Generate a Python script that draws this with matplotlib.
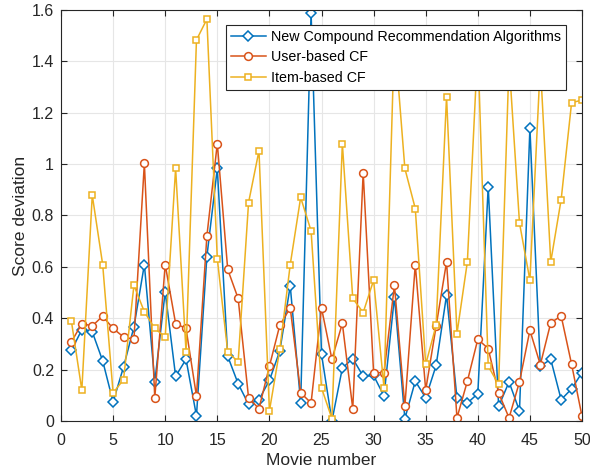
import numpy as np
import matplotlib
matplotlib.use('Agg')
import matplotlib.pyplot as plt

plt.rcParams['font.family'] = ['Liberation Sans', 'DejaVu Sans']

movies = np.arange(1, 51)

new_compound = [0.275, 0.355, 0.347, 0.234, 0.074, 0.21, 0.366, 0.609, 0.152, 0.503,
                0.174, 0.24, 0.02, 0.64, 0.983, 0.252, 0.145, 0.065, 0.083, 0.158,
                0.273, 0.526, 0.071, 1.59, 0.26, 0.0, 0.206, 0.243, 0.174, 0.177,
                0.097, 0.483, 0.009, 0.155, 0.09, 0.216, 0.49, 0.09, 0.07, 0.106,
                0.912, 0.057, 0.152, 0.039, 1.139, 0.213, 0.24, 0.083, 0.125, 0.188]

user_cf = [0.308, 0.379, 0.37, 0.408, 0.36, 0.327, 0.318, 1.003, 0.09, 0.609,
           0.379, 0.36, 0.097, 0.72, 1.08, 0.59, 0.477, 0.09, 0.048, 0.213,
           0.373, 0.44, 0.11, 0.07, 0.44, 0.24, 0.38, 0.048, 0.967, 0.188,
           0.188, 0.528, 0.057, 0.609, 0.12, 0.369, 0.619, 0.012, 0.155, 0.318,
           0.282, 0.109, 0.012, 0.152, 0.353, 0.219, 0.382, 0.409, 0.221, 0.018]

item_cf = [0.388, 0.12, 0.879, 0.609, 0.109, 0.161, 0.528, 0.425, 0.36, 0.327,
           0.983, 0.269, 1.483, 1.564, 0.632, 0.269, 0.23, 0.85, 1.052, 0.039,
           0.279, 0.609, 0.87, 0.74, 0.129, 0.009, 1.08, 0.477, 0.422, 0.548,
           0.129, 1.5, 0.983, 0.827, 0.22, 0.373, 1.262, 0.34, 0.62, 1.46,
           0.213, 0.142, 1.4, 0.771, 0.548, 1.39, 0.619, 0.862, 1.239, 1.249]

series = [
    ('New Compound Recommendation Algorithms', new_compound, '#0072BD', 'D', 4.8),
    ('User-based CF', user_cf, '#D95319', 'o', 5.6),
    ('Item-based CF', item_cf, '#EDB120', 's', 4.8),
]

fig = plt.figure(figsize=(5.9, 4.73), dpi=100)
ax = fig.add_axes([61 / 590, 0.110, 521 / 590, 0.869])

for name, vals, col, mk, ms in series:
    ax.plot(movies, vals, color=col, marker=mk, ms=ms, mfc='white', mec=col,
            mew=1.1, lw=1.1, label=name)

ax.set_xlim(0, 50)
ax.set_ylim(0, 1.6)
ax.set_xticks(np.arange(0, 51, 5))
yt = np.arange(0, 1.61, 0.2)
ax.set_yticks(yt)
ax.set_yticklabels(['0', '0.2', '0.4', '0.6', '0.8', '1', '1.2', '1.4', '1.6'])
ax.grid(True, color='#e6e6e6', lw=0.8)
ax.set_axisbelow(True)
ax.tick_params(direction='in', top=True, right=True, labelsize=11.5,
               colors='#262626', length=4)
ax.tick_params(axis='x', pad=9)
ax.tick_params(axis='y', pad=5)
for sp in ax.spines.values():
    sp.set_color('#262626')
    sp.set_linewidth(0.8)

ax.set_xlabel('Movie number', fontsize=12.5, color='#262626', labelpad=3)
ax.set_ylabel('Score deviation', fontsize=12.5, color='#262626', labelpad=3)

leg = ax.legend(loc='upper right', bbox_to_anchor=(0.97, 0.964), fontsize=10.3,
                fancybox=False, framealpha=1, edgecolor='#262626',
                borderpad=0.35, labelspacing=0.45, handlelength=2.4,
                handletextpad=0.4, borderaxespad=0)
leg.get_frame().set_linewidth(0.8)

fig.savefig('out.png', dpi=100)
